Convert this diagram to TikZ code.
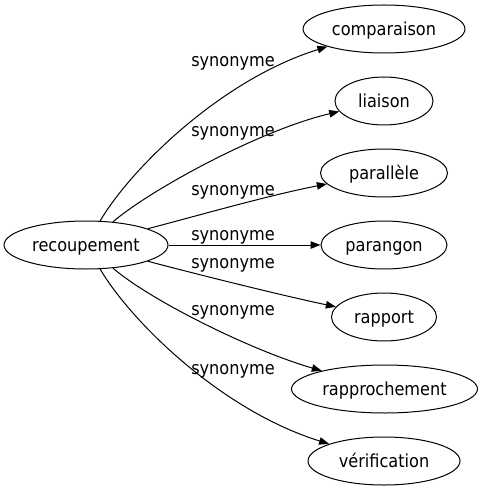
\documentclass[tikz,border=0pt]{standalone}
\usepackage{fontspec}
\setmainfont{DejaVu Sans Condensed}
\usetikzlibrary{shapes.geometric,arrows.meta}
\begin{document}
\begin{tikzpicture}[x=1bp,y=-1bp,
  word/.style={ellipse,draw,line width=1bp,inner sep=0pt,minimum height=48bp,text height=13bp,text depth=0pt,font=\fontsize{18}{20}\selectfont},
  rel/.style={line width=1bp,-{Triangle[length=10bp,width=7.5bp]}},
  lab/.style={font=\fontsize{18}{20}\selectfont,inner sep=0pt,text height=13bp,text depth=0pt}]
\useasboundingbox (0,0) rectangle (482,491);
\node[word,minimum width=164bp] (rec) at (86,245) {recoupement};
\node[word,minimum width=162bp] (comp) at (384,29) {comparaison};
\node[word,minimum width=98bp] (liai) at (384,101) {liaison};
\node[word,minimum width=127bp] (para) at (384,173) {parallèle};
\node[word,minimum width=126bp] (parg) at (384,245) {parangon};
\node[word,minimum width=105bp] (rapp) at (384,317) {rapport};
\node[word,minimum width=186bp] (rapr) at (384.5,389) {rapprochement};
\node[word,minimum width=152bp] (veri) at (384,461) {vérification};
\draw[rel] (rec) .. controls (130,170) and (220,80) .. (comp);
\draw[rel] (rec) .. controls (150,190) and (260,130) .. (liai);
\draw[rel] (rec) .. controls (200,215) and (270,195) .. (para);
\draw[rel] (rec) -- (parg);
\draw[rel] (rec) .. controls (200,275) and (280,295) .. (rapp);
\draw[rel] (rec) .. controls (150,300) and (250,350) .. (rapr);
\draw[rel] (rec) .. controls (130,320) and (220,410) .. (veri);
\node[lab] (l1) at (233,60) {synonyme};
\node[lab] (l2) at (233,130) {synonyme};
\node[lab] (l3) at (233,189) {synonyme};
\node[lab] (l4) at (233,234) {synonyme};
\node[lab] (l5) at (233,262) {synonyme};
\node[lab] (l6) at (233,309) {synonyme};
\node[lab] (l7) at (233,368) {synonyme};
\end{tikzpicture}
\end{document}
